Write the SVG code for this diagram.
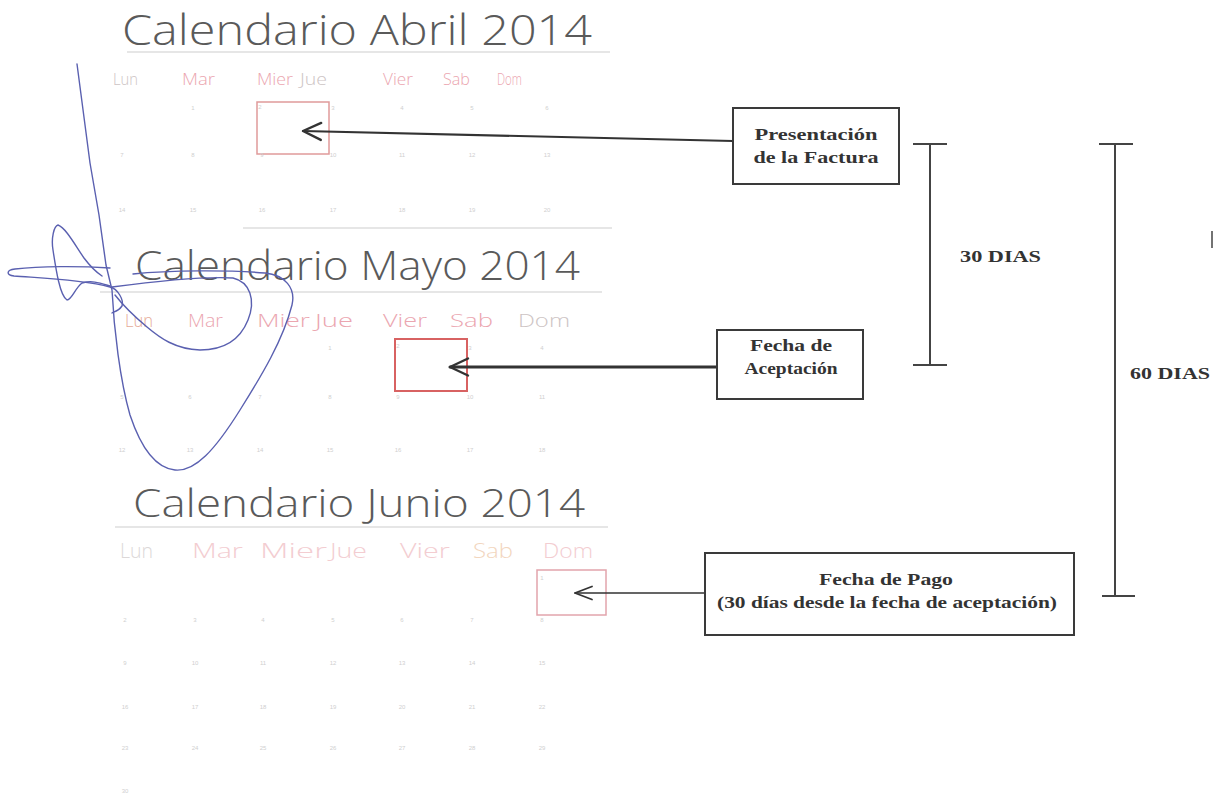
<svg xmlns="http://www.w3.org/2000/svg" width="1220" height="800" viewBox="0 0 1220 800">
<style>
.title{font-family:"Open Sans",Lato,"DejaVu Sans",sans-serif;font-weight:300;fill:#5a5a5a}
.hd{font-family:"Open Sans",Lato,"DejaVu Sans",sans-serif;font-weight:300;fill:#eba6b0}
.hd.g{fill:#cdc4c4}
.hj{font-family:"Open Sans",Lato,"DejaVu Sans",sans-serif;font-weight:300;fill:#f3cdd1}
.num{font-family:"Liberation Sans",sans-serif;font-size:6px;fill:#cfcfcf;text-anchor:middle}
.rule{stroke:#dedede;stroke-width:1.5;fill:none}
.box{fill:#fff;stroke:#3a3a3a;stroke-width:2}
.lbl{font-family:"Liberation Serif","Times New Roman",serif;font-weight:bold;font-size:17px;fill:#333;text-anchor:middle}
.conn{fill:none;stroke:#333;stroke-linecap:round}
.dim{stroke:#444;stroke-width:2;fill:none}
.pen{fill:none;stroke:#5a60b0;stroke-width:1.4;stroke-linecap:round;stroke-linejoin:round}
</style>
<defs>
<marker id="chev" markerUnits="userSpaceOnUse" markerWidth="40" markerHeight="40" refX="0" refY="0" orient="auto" overflow="visible">
<path d="M-18,-8.5 L0,0 L-18,8.5" fill="none" stroke="#333" stroke-width="2.4" stroke-linecap="round" stroke-linejoin="round"/>
</marker>
<marker id="chev3" markerUnits="userSpaceOnUse" markerWidth="40" markerHeight="40" refX="0" refY="0" orient="auto" overflow="visible">
<path d="M-17,-6.5 L0,0 L-17,6.5" fill="none" stroke="#333" stroke-width="1.8" stroke-linecap="round" stroke-linejoin="round"/>
</marker>
</defs>
<rect width="1220" height="800" fill="#fff"/>

<!-- Calendario Abril -->
<g id="cal-abril">
<text class="title" x="122" y="45" font-size="42" textLength="470" lengthAdjust="spacingAndGlyphs">Calendario Abril 2014</text>
<line class="rule" x1="127" y1="52" x2="610" y2="52"/>
<text class="hd g" x="113" y="85" font-size="16" textLength="25" lengthAdjust="spacingAndGlyphs">Lun</text>
<text class="hd" x="182" y="85" font-size="16" textLength="33" lengthAdjust="spacingAndGlyphs">Mar</text>
<text class="hd" x="257" y="85" font-size="16" textLength="36" lengthAdjust="spacingAndGlyphs">Mier</text>
<text class="hd g" x="300" y="85" font-size="16" textLength="27" lengthAdjust="spacingAndGlyphs">Jue</text>
<text class="hd" x="383" y="85" font-size="16" textLength="30" lengthAdjust="spacingAndGlyphs">Vier</text>
<text class="hd" x="443" y="85" font-size="16" textLength="27" lengthAdjust="spacingAndGlyphs">Sab</text>
<text class="hd" x="497" y="85" font-size="16" textLength="25" lengthAdjust="spacingAndGlyphs">Dom</text>
<rect x="257" y="102" width="72" height="52" fill="none" stroke="#e09a9a" stroke-width="1.5"/>
<text class="num" x="193" y="110">1</text><text class="num" x="260" y="109">2</text><text class="num" x="333" y="110">3</text><text class="num" x="402" y="110">4</text><text class="num" x="472" y="110">5</text><text class="num" x="547" y="110">6</text>
<text class="num" x="122" y="157">7</text><text class="num" x="193" y="157">8</text><text class="num" x="262" y="157">9</text><text class="num" x="333" y="157">10</text><text class="num" x="402" y="157">11</text><text class="num" x="472" y="157">12</text><text class="num" x="547" y="157">13</text>
<text class="num" x="122" y="212">14</text><text class="num" x="193" y="212">15</text><text class="num" x="262" y="212">16</text><text class="num" x="333" y="212">17</text><text class="num" x="402" y="212">18</text><text class="num" x="472" y="212">19</text><text class="num" x="547" y="212">20</text>
<line class="rule" x1="243" y1="228" x2="612" y2="228"/>
</g>

<!-- Calendario Mayo -->
<g id="cal-mayo">
<text class="title" x="135" y="280" font-size="40" textLength="445" lengthAdjust="spacingAndGlyphs">Calendario Mayo 2014</text>
<line class="rule" x1="100" y1="292" x2="602" y2="292"/>
<text class="hd" x="125" y="327" font-size="18" textLength="28" lengthAdjust="spacingAndGlyphs" style="fill:#e6ab98">Lun</text>
<text class="hd" x="188" y="327" font-size="18" textLength="35" lengthAdjust="spacingAndGlyphs">Mar</text>
<text class="hd" x="257" y="327" font-size="18" textLength="53" lengthAdjust="spacingAndGlyphs">Mier</text>
<text class="hd" x="315" y="327" font-size="18" textLength="38" lengthAdjust="spacingAndGlyphs">Jue</text>
<text class="hd" x="383" y="327" font-size="18" textLength="44" lengthAdjust="spacingAndGlyphs">Vier</text>
<text class="hd" x="450" y="327" font-size="18" textLength="43" lengthAdjust="spacingAndGlyphs">Sab</text>
<text class="hd g" x="518" y="327" font-size="18" textLength="52" lengthAdjust="spacingAndGlyphs">Dom</text>
<rect x="395" y="339" width="72" height="52" fill="none" stroke="#d86262" stroke-width="2"/>
<text class="num" x="330" y="350">1</text><text class="num" x="398" y="348">2</text><text class="num" x="470" y="350">3</text><text class="num" x="542" y="350">4</text>
<text class="num" x="122" y="399">5</text><text class="num" x="190" y="399">6</text><text class="num" x="260" y="399">7</text><text class="num" x="330" y="399">8</text><text class="num" x="398" y="399">9</text><text class="num" x="470" y="399">10</text><text class="num" x="542" y="399">11</text>
<text class="num" x="122" y="452">12</text><text class="num" x="190" y="452">13</text><text class="num" x="260" y="452">14</text><text class="num" x="330" y="452">15</text><text class="num" x="398" y="452">16</text><text class="num" x="470" y="452">17</text><text class="num" x="542" y="452">18</text>
</g>

<!-- Calendario Junio -->
<g id="cal-junio">
<text class="title" x="133" y="517" font-size="38" textLength="452" lengthAdjust="spacingAndGlyphs">Calendario Junio 2014</text>
<line class="rule" x1="115" y1="527" x2="608" y2="527"/>
<text class="hj" x="120" y="558" font-size="20" textLength="33" lengthAdjust="spacingAndGlyphs" style="fill:#dcd8d8">Lun</text>
<text class="hj" x="192" y="558" font-size="20" textLength="51" lengthAdjust="spacingAndGlyphs">Mar</text>
<text class="hj" x="260" y="558" font-size="20" textLength="67" lengthAdjust="spacingAndGlyphs">Mier</text>
<text class="hj" x="330" y="558" font-size="20" textLength="37" lengthAdjust="spacingAndGlyphs">Jue</text>
<text class="hj" x="400" y="558" font-size="20" textLength="50" lengthAdjust="spacingAndGlyphs">Vier</text>
<text class="hj" x="473" y="558" font-size="20" textLength="40" lengthAdjust="spacingAndGlyphs" style="fill:#f2d6be">Sab</text>
<text class="hj" x="543" y="558" font-size="20" textLength="50" lengthAdjust="spacingAndGlyphs">Dom</text>
<rect x="537" y="570" width="69" height="45" fill="none" stroke="#e2a4ac" stroke-width="1.5"/>
<text class="num" x="542" y="580">1</text>
<text class="num" x="125" y="622">2</text><text class="num" x="195" y="622">3</text><text class="num" x="263" y="622">4</text><text class="num" x="333" y="622">5</text><text class="num" x="402" y="622">6</text><text class="num" x="472" y="622">7</text><text class="num" x="542" y="622">8</text>
<text class="num" x="125" y="665">9</text><text class="num" x="195" y="665">10</text><text class="num" x="263" y="665">11</text><text class="num" x="333" y="665">12</text><text class="num" x="402" y="665">13</text><text class="num" x="472" y="665">14</text><text class="num" x="542" y="665">15</text>
<text class="num" x="125" y="709">16</text><text class="num" x="195" y="709">17</text><text class="num" x="263" y="709">18</text><text class="num" x="333" y="709">19</text><text class="num" x="402" y="709">20</text><text class="num" x="472" y="709">21</text><text class="num" x="542" y="709">22</text>
<text class="num" x="125" y="750">23</text><text class="num" x="195" y="750">24</text><text class="num" x="263" y="750">25</text><text class="num" x="333" y="750">26</text><text class="num" x="402" y="750">27</text><text class="num" x="472" y="750">28</text><text class="num" x="542" y="750">29</text>
<text class="num" x="125" y="793">30</text>
</g>

<!-- Connectors -->
<g id="connectors">
<path class="conn" d="M733,141 L303,131" stroke-width="2.2" marker-end="url(#chev)"/>
<path class="conn" d="M717,367 L450,367" stroke-width="3" marker-end="url(#chev)"/>
<path class="conn" d="M705,593 L575,593" stroke-width="1.6" marker-end="url(#chev3)"/>
</g>

<!-- Nodes -->
<g id="node-presentacion">
<rect class="box" x="733" y="108" width="166" height="76"/>
<text class="lbl" x="816" y="140" textLength="123" lengthAdjust="spacingAndGlyphs">Presentación</text>
<text class="lbl" x="816" y="163" textLength="125" lengthAdjust="spacingAndGlyphs">de la Factura</text>
</g>
<g id="node-aceptacion">
<rect class="box" x="717" y="330" width="146" height="69"/>
<text class="lbl" x="791" y="351" textLength="82" lengthAdjust="spacingAndGlyphs">Fecha de</text>
<text class="lbl" x="791" y="374" textLength="93" lengthAdjust="spacingAndGlyphs">Aceptación</text>
</g>
<g id="node-pago">
<rect class="box" x="705" y="553" width="369" height="82"/>
<text class="lbl" x="886" y="585" textLength="134" lengthAdjust="spacingAndGlyphs">Fecha de Pago</text>
<text class="lbl" x="887" y="608" textLength="340" lengthAdjust="spacingAndGlyphs">(30 días desde la fecha de aceptación)</text>
</g>

<!-- Dimension brackets -->
<g id="dim-30">
<path class="dim" d="M913,144 H947 M930,144 V365 M913,365 H947"/>
<text class="lbl" x="960" y="262" style="text-anchor:start" textLength="81" lengthAdjust="spacingAndGlyphs">30 DIAS</text>
</g>
<g id="dim-60">
<path class="dim" d="M1099,144 H1133 M1115,144 V596 M1102,596 H1135"/>
<text class="lbl" x="1130" y="379" style="text-anchor:start" textLength="80" lengthAdjust="spacingAndGlyphs">60 DIAS</text>
</g>
<line x1="1212" y1="231" x2="1212" y2="248" stroke="#444" stroke-width="1.5"/>

<!-- Pen scribble -->
<g id="scribble">
<path class="pen" d="M77,64 L90,163 L99,215 L106,265 L112,290 C114,330 120,380 130,415 C140,445 155,468 175,470 C195,472 215,450 240,410 C262,375 283,340 292,305 C296,288 285,275 265,273 C230,270 170,270 133,274"/>
<path class="pen" d="M110,268 C80,266 40,266 15,269 C6,270 6,275 14,276 C40,278 80,279 110,287 C118,289 124,300 122,306 C118,312 112,312 112,313"/>
<path class="pen" d="M112,287 C150,282 200,276 233,278 C250,282 256,300 248,320 C240,340 225,350 200,350 C175,349 160,338 147,327 C135,317 122,304 115,295"/>
<path class="pen" d="M110,286 C100,283 92,280 82,283 C75,288 72,300 67,300 C60,296 56,270 53,250 C51,238 54,226 58,225 C66,228 75,245 84,258 C90,266 96,272 102,276"/>
</g>
</svg>
